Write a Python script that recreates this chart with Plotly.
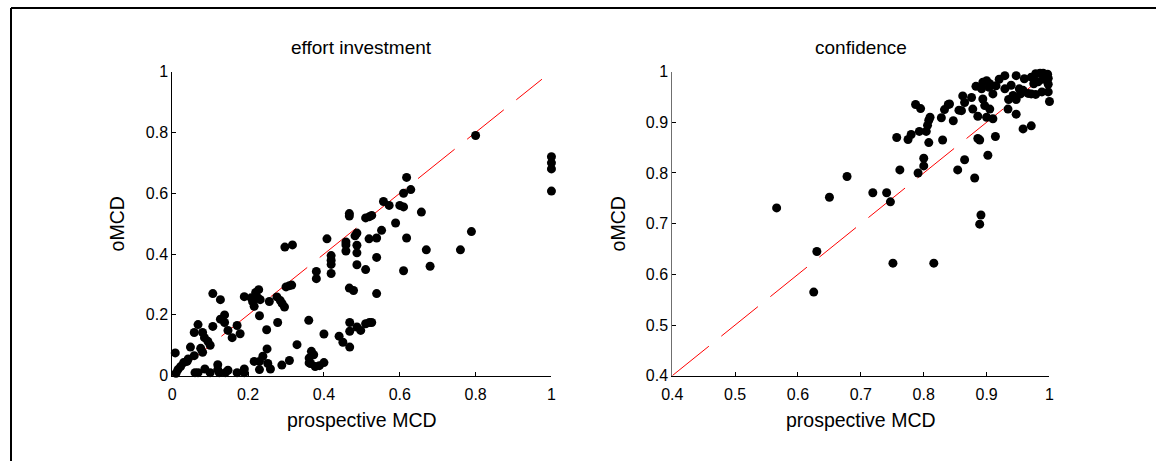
import plotly.graph_objects as go

# effort investment: prospective MCD vs oMCD
effort_x = [0.008, 0.01, 0.015, 0.022, 0.03, 0.039, 0.042, 0.048, 0.058, 0.06, 0.068, 0.058, 0.068,
            0.075, 0.08, 0.08, 0.085, 0.086, 0.094, 0.10, 0.10, 0.107, 0.107, 0.12, 0.12, 0.124, 0.127,
            0.127, 0.138, 0.138, 0.14, 0.147, 0.147, 0.158, 0.171, 0.171, 0.179, 0.19, 0.19, 0.19,
            0.208, 0.212, 0.216, 0.216, 0.22, 0.228, 0.226, 0.232, 0.23, 0.23, 0.23, 0.239, 0.249,
            0.25, 0.252, 0.256, 0.259, 0.276, 0.278, 0.285, 0.289, 0.29, 0.296, 0.297, 0.30, 0.309,
            0.309, 0.315, 0.317, 0.329, 0.36, 0.361, 0.361, 0.365, 0.367, 0.373, 0.377, 0.38, 0.38,
            0.388, 0.40, 0.40, 0.408, 0.419, 0.419, 0.419, 0.419, 0.44, 0.45, 0.458, 0.458, 0.458,
            0.467, 0.467, 0.467, 0.468, 0.468, 0.468, 0.478, 0.482, 0.487, 0.487, 0.487, 0.487, 0.487,
            0.497, 0.51, 0.51, 0.51, 0.519, 0.52, 0.52, 0.526, 0.526, 0.539, 0.539, 0.539, 0.552,
            0.557, 0.572, 0.589, 0.60, 0.61, 0.61, 0.61, 0.618, 0.618, 0.629, 0.657, 0.67, 0.68,
            0.76, 0.789, 0.80, 1.0, 1.0, 1.0, 1.0]
effort_y = [0.075, 0.008, 0.02, 0.03, 0.043, 0.047, 0.055, 0.094, 0.066, 0.01, 0.01, 0.142, 0.168,
            0.09, 0.077, 0.142, 0.125, 0.022, 0.113, 0.10, 0.01, 0.27, 0.162, 0.036, 0.02, 0.01, 0.25,
            0.186, 0.20, 0.175, 0.01, 0.149, 0.018, 0.125, 0.165, 0.01, 0.138, 0.26, 0.022, 0.01,
            0.256, 0.243, 0.228, 0.047, 0.274, 0.283, 0.256, 0.25, 0.197, 0.047, 0.02, 0.064, 0.151,
            0.088, 0.04, 0.244, 0.022, 0.259, 0.175, 0.247, 0.035, 0.237, 0.226, 0.423, 0.292, 0.296,
            0.05, 0.298, 0.43, 0.102, 0.182, 0.058, 0.042, 0.04, 0.08, 0.069, 0.03, 0.343, 0.319,
            0.033, 0.137, 0.043, 0.45, 0.395, 0.38, 0.366, 0.336, 0.13, 0.11, 0.44, 0.43, 0.41,
            0.533, 0.525, 0.288, 0.175, 0.146, 0.094, 0.28, 0.46, 0.469, 0.429, 0.404, 0.365, 0.16,
            0.149, 0.519, 0.349, 0.171, 0.45, 0.523, 0.175, 0.527, 0.175, 0.453, 0.389, 0.27, 0.478,
            0.573, 0.56, 0.502, 0.56, 0.555, 0.60, 0.345, 0.453, 0.652, 0.612, 0.538, 0.414, 0.36,
            0.414, 0.474, 0.79, 0.72, 0.70, 0.68, 0.607]

# confidence: prospective MCD vs oMCD
conf_x = [0.566, 0.625, 0.63, 0.65, 0.678, 0.719, 0.741, 0.747, 0.751, 0.816, 0.757, 0.762, 0.775,
          0.78, 0.787, 0.791, 0.793, 0.795, 0.80, 0.80, 0.804, 0.806, 0.808, 0.808, 0.81, 0.828, 0.83,
          0.833, 0.839, 0.841, 0.847, 0.854, 0.856, 0.86, 0.862, 0.865, 0.865, 0.876, 0.878, 0.881,
          0.883, 0.886, 0.886, 0.889, 0.889, 0.891, 0.892, 0.894, 0.894, 0.897, 0.90, 0.90, 0.902,
          0.904, 0.905, 0.905, 0.91, 0.91, 0.914, 0.915, 0.92, 0.929, 0.929, 0.934, 0.935, 0.939,
          0.942, 0.947, 0.947, 0.947, 0.952, 0.954, 0.958, 0.958, 0.96, 0.966, 0.971, 0.971, 0.971,
          0.975, 0.976, 0.978, 0.978, 0.982, 0.985, 0.988, 0.99, 0.99, 0.997, 0.998, 0.998, 0.998,
          1.0]
conf_y = [0.731, 0.565, 0.645, 0.752, 0.793, 0.761, 0.761, 0.743, 0.622, 0.622, 0.87, 0.806, 0.866,
          0.876, 0.935, 0.80, 0.882, 0.927, 0.829, 0.814, 0.882, 0.894, 0.904, 0.86, 0.91, 0.909, 0.865,
          0.925, 0.935, 0.936, 0.903, 0.806, 0.924, 0.923, 0.952, 0.939, 0.826, 0.949, 0.926, 0.79,
          0.971, 0.912, 0.868, 0.865, 0.699, 0.717, 0.966, 0.979, 0.946, 0.933, 0.982, 0.91, 0.835,
          0.969, 0.926, 0.976, 0.956, 0.907, 0.872, 0.972, 0.985, 0.992, 0.966, 0.926, 0.945, 0.973,
          0.953, 0.992, 0.945, 0.916, 0.966, 0.956, 0.887, 0.963, 0.986, 0.957, 0.989, 0.956, 0.893,
          0.976, 0.983, 0.996, 0.955, 0.98, 0.997, 0.96, 0.997, 0.985, 0.995, 0.987, 0.96, 0.975,
          0.941]

# identity reference lines
effort_diag = [0.0, 0.975]
conf_diag = [0.4, 0.988]

effort_ticks = [0, 0.2, 0.4, 0.6, 0.8, 1]
effort_tick_text = ["0", "0.2", "0.4", "0.6", "0.8", "1"]
conf_ticks = [0.4, 0.5, 0.6, 0.7, 0.8, 0.9, 1]
conf_tick_text = ["0.4", "0.5", "0.6", "0.7", "0.8", "0.9", "1"]

W, H = 1161, 470
FONT = "Liberation Sans, Arial, sans-serif"


def px_x(p):
    """Figure x pixel -> paper fraction."""
    return p / W


def px_y(p):
    """Figure y pixel (from top) -> paper fraction."""
    return 1 - p / H


# panel boxes in figure pixels
LEFT_X = (163.5, 548.0)
RIGHT_X = (670.5, 1053.0)
PANEL_Y = (66.0, 381.5)

fig = go.Figure()

dot = dict(color="black", size=9, line=dict(width=0))
diag_line = dict(color="red", width=1, dash="47px,16px")

fig.add_trace(go.Scatter(x=effort_diag, y=effort_diag, mode="lines", line=diag_line,
                         xaxis="x", yaxis="y", showlegend=False, hoverinfo="skip"))
fig.add_trace(go.Scatter(x=effort_x, y=effort_y, mode="markers", marker=dot, cliponaxis=False,
                         xaxis="x", yaxis="y", showlegend=False))
fig.add_trace(go.Scatter(x=conf_diag, y=conf_diag, mode="lines", line=diag_line,
                         xaxis="x2", yaxis="y2", showlegend=False, hoverinfo="skip"))
fig.add_trace(go.Scatter(x=conf_x, y=conf_y, mode="markers", marker=dot, cliponaxis=False,
                         xaxis="x2", yaxis="y2", showlegend=False))

axis_common = dict(showgrid=False, zeroline=False, showline=True, linewidth=1,
                   ticks="inside", ticklen=4, tickcolor="black", tickwidth=1, mirror=False,
                   tickfont=dict(family=FONT, size=16, color="black"), fixedrange=True)

ydom = [px_y(PANEL_Y[1]), px_y(PANEL_Y[0])]
fig.update_layout(
    width=W, height=H,
    margin=dict(l=0, r=0, t=0, b=0),
    paper_bgcolor="white", plot_bgcolor="white",
    xaxis=dict(domain=[px_x(LEFT_X[0]), px_x(LEFT_X[1])], range=[0, 1], tickvals=effort_ticks,
               ticktext=effort_tick_text, anchor="y", linecolor="black",
               ticklabelstandoff=4, **axis_common),
    yaxis=dict(domain=ydom, range=[0, 1], tickvals=effort_ticks,
               ticktext=effort_tick_text, anchor="x", linecolor="black", **axis_common),
    xaxis2=dict(domain=[px_x(RIGHT_X[0]), px_x(RIGHT_X[1])], range=[0.4, 1], tickvals=conf_ticks,
                ticktext=conf_tick_text, anchor="y2", linecolor="black",
                ticklabelstandoff=4, **axis_common),
    yaxis2=dict(domain=ydom, range=[0.4, 1], tickvals=conf_ticks,
                ticktext=conf_tick_text, anchor="x2", linecolor="#6f6f6f", **axis_common),
)

title_font = dict(family=FONT, size=19, color="black")
label_font = dict(family=FONT, size=19.5, color="black")
left_mid = sum(LEFT_X) / 2
right_mid = sum(RIGHT_X) / 2
annotations = [
    dict(text="effort investment", x=px_x(left_mid), y=px_y(41), font=title_font),
    dict(text="confidence", x=px_x(right_mid), y=px_y(41), font=title_font),
    dict(text="prospective MCD", x=px_x(left_mid), y=px_y(427), font=label_font),
    dict(text="prospective MCD", x=px_x(right_mid), y=px_y(427), font=label_font),
    dict(text="oMCD", x=px_x(107), y=px_y(224), textangle=-90, font=label_font),
    dict(text="oMCD", x=px_x(615), y=px_y(224), textangle=-90, font=label_font),
]
for a in annotations:
    fig.add_annotation(xref="paper", yref="paper", showarrow=False,
                       xanchor="center", yanchor="middle", **a)

# figure frame (top and left edges)
fig.add_shape(type="line", xref="paper", yref="paper", x0=0, x1=1,
              y0=1, y1=1, line=dict(color="black", width=2))
fig.add_shape(type="line", xref="paper", yref="paper", x0=0, x1=0,
              y0=0, y1=1, line=dict(color="black", width=2))

fig.write_html("out.html")
